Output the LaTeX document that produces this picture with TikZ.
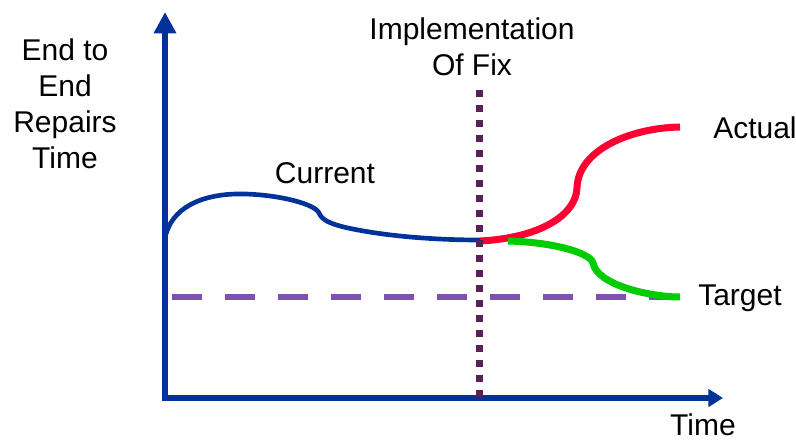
\documentclass[tikz,border=0pt]{standalone}
\usepackage{fontspec}
\setmainfont{Liberation Sans}
\usetikzlibrary{arrows.meta}
\definecolor{axisblue}{HTML}{003399}
\definecolor{actualred}{HTML}{FF0033}
\definecolor{targetgreen}{HTML}{00CC00}
\definecolor{goalpurple}{HTML}{8050B4}
\definecolor{fixplum}{HTML}{5A2058}

\begin{document}
\begin{tikzpicture}
 [x=0.75pt, y=-0.75pt,
  axis/.style={draw=axisblue, line width=4.5pt},
  trend/.style={line width=5.25pt},
  lbl/.style={font=\fontsize{22.5}{27}\selectfont, align=center, inner sep=0pt}]
  \useasboundingbox (0,0) rectangle (796,441);

  % axes
  \coordinate (O)  at (165,398);
  \coordinate (yt) at (165,12);
  \coordinate (xt) at (723,398);
  \draw[axis, -{Triangle[length=16pt,width=16pt]}] ([yshift=-2.25pt]O) -- (yt);
  \draw[axis, -{Triangle[length=11pt,width=13pt]}] ([xshift=-2.25pt]O) -- (xt);

  % target level
  \draw[goalpurple, line width=5pt, dash pattern=on 22.5pt off 17.25pt]
    (172,297) -- (680,297);

  % current, actual and target curves
  \draw[trend, draw=axisblue, line width=3.5pt]
    (166,234) .. controls (175,203) and (210,193) .. (245,194)
    .. controls (280,195) and (315,204) .. (319,213)
    .. controls (322,220) and (330,224) .. (348,228)
    .. controls (390,237) and (440,240) .. (480,240);
  \draw[trend, draw=actualred]
    (480,241) .. controls (540,238) and (576,215) .. (577,188)
    .. controls (578,150) and (630,128) .. (680,127);
  \draw[trend, draw=targetgreen]
    (508,241) .. controls (550,242) and (590,252) .. (593,263)
    .. controls (597,285) and (650,297) .. (680,297);

  % fix line
  \draw[fixplum, line width=5.25pt, dash pattern=on 5pt off 6.25pt]
    (479,90) -- (479,398);

  % labels
  \node[lbl] (ylbl)    at (65,104)  {End to\\End\\Repairs\\Time};
  \node[lbl] (fix)     at (472,47)  {Implementation\\Of Fix};
  \node[lbl] (current) at (325,173) {Current};
  \node[lbl, anchor=west] (actual) at (713,128) {Actual};
  \node[lbl, anchor=west] (target) at (698,298) {Target};
  \node[lbl] (time)    at (703,425) {Time};
\end{tikzpicture}
\end{document}
